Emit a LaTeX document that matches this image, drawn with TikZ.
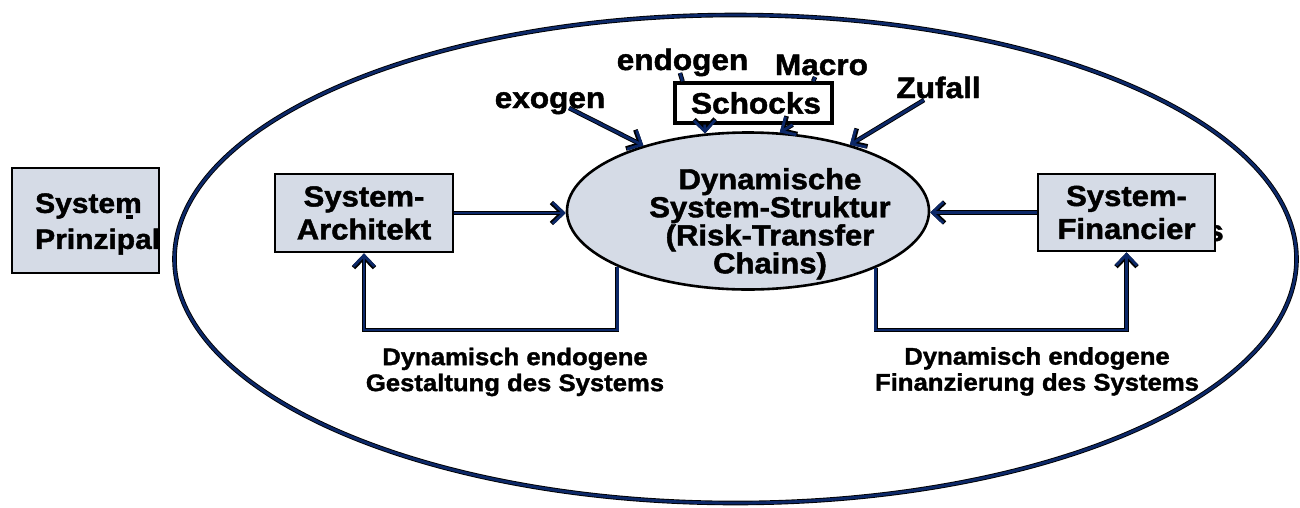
\documentclass[tikz,border=0pt]{standalone}
\usepackage{fontspec}
\setmainfont{Liberation Sans}[FakeStretch=1.07, BoldFeatures={FakeBold=1.5}]
\usetikzlibrary{shapes.geometric,arrows.meta,calc}
\definecolor{navy}{RGB}{12,40,104}
\definecolor{boxfill}{RGB}{213,219,230}

\begin{document}
\begin{tikzpicture}[x=1pt,y=-1pt,
  lbl/.style={font=\bfseries\fontsize{29.5}{25}\selectfont, inner sep=0pt},
  small/.style={font=\bfseries\fontsize{24}{26}\selectfont, inner sep=0pt, align=center},
  block/.style={draw=black, line width=2.8pt, fill=boxfill, inner sep=0pt, align=center,
                font=\bfseries\fontsize{29}{33}\selectfont},
  navyline/.style={draw=navy, line width=2.8pt, preaction={draw=black, line width=4.6pt}},
  arr/.style={navyline, -{Straight Barb[length=11pt,width=21pt]}},
  ]
\useasboundingbox (0,0) rectangle (1300,507);

% the system boundary
\node[ellipse, draw=black, double=navy, double distance=2.8pt, line width=0.9pt,
      minimum width=1122pt, minimum height=488pt, inner sep=0pt] (world) at (735.5,259) {};

% system structure in the middle
\node[ellipse, draw=black, line width=2.6pt, fill=boxfill,
      minimum width=362pt, minimum height=157pt, inner sep=0pt] (core) at (748,211) {};
\node[lbl, align=center, anchor=north, font=\bfseries\fontsize{29}{25.5}\selectfont] (coretxt) at (770,168)
  {Dynamische\\System-Struktur\\(Risk-Transfer\\Chains)};

% actors
\node[block, minimum width=147pt, minimum height=105pt] (prz) at (85.5,220.5) {};
\node[lbl, align=left, anchor=west, font=\bfseries\fontsize{28}{36}\selectfont] (przt)
  at (35,224) {System\\Prinzipal};
\fill (126,215) rectangle (133,219);

\node[block, minimum width=178pt, minimum height=78pt] (arch) at (364,213) {System-\\Architekt};
\node[lbl, anchor=base west] (tail) at (1206,241) {s};
\node[block, minimum width=177pt, minimum height=77pt] (fin) at (1126.5,212.5) {System-\\Financier};

% shocks
\node[draw=black, line width=3.4pt, fill=white, minimum width=157pt, minimum height=40pt,
      inner sep=0pt, font=\bfseries\fontsize{29.5}{25}\selectfont] (sch) at (753.5,103) {\hspace*{5pt}Schocks};
\node[lbl, anchor=base] (endo) at (682.5,70) {endogen};
\node[lbl, anchor=base] (macro) at (821.5,75) {Macro};
\node[lbl, anchor=base] (exo) at (550,108) {exogen};
\node[lbl, anchor=base] (zuf) at (938.5,98) {Zufall};

\coordinate (exoS) at (569,108);
\coordinate (endoS) at (680,73);
\coordinate (macroS) at (815,77);
\coordinate (zufS) at (924,100);
\coordinate (loopy) at (0,330);

\draw[arr] (exoS) -- (core.148.6);
\draw[navyline] (endoS) -- (sch.163.3);
\draw[navyline] (macroS) -- (sch.20.2);
\draw[arr] (sch.204) -- (core.119.5);
\draw[arr] (sch.331.3) -- (core.68.5);
\draw[arr] (zufS) -- (core.33.4);

\draw[arr] (arch.east) -- (arch.east -| core.west);
\draw[arr] (fin.west) -- (fin.west -| core.east);

% feedback loops
\draw[arr] (core.203.3) |- (arch.south |- loopy) -- (arch.south);
\draw[arr] (core.336.7) |- (fin.south |- loopy) -- (fin.south);

\node[small, anchor=north] (capL) at (515,347.5) {Dynamisch endogene\\Gestaltung des Systems};
\node[small, anchor=north] (capR) at (1037,347) {Dynamisch endogene\\Finanzierung des Systems};
\end{tikzpicture}
\end{document}
